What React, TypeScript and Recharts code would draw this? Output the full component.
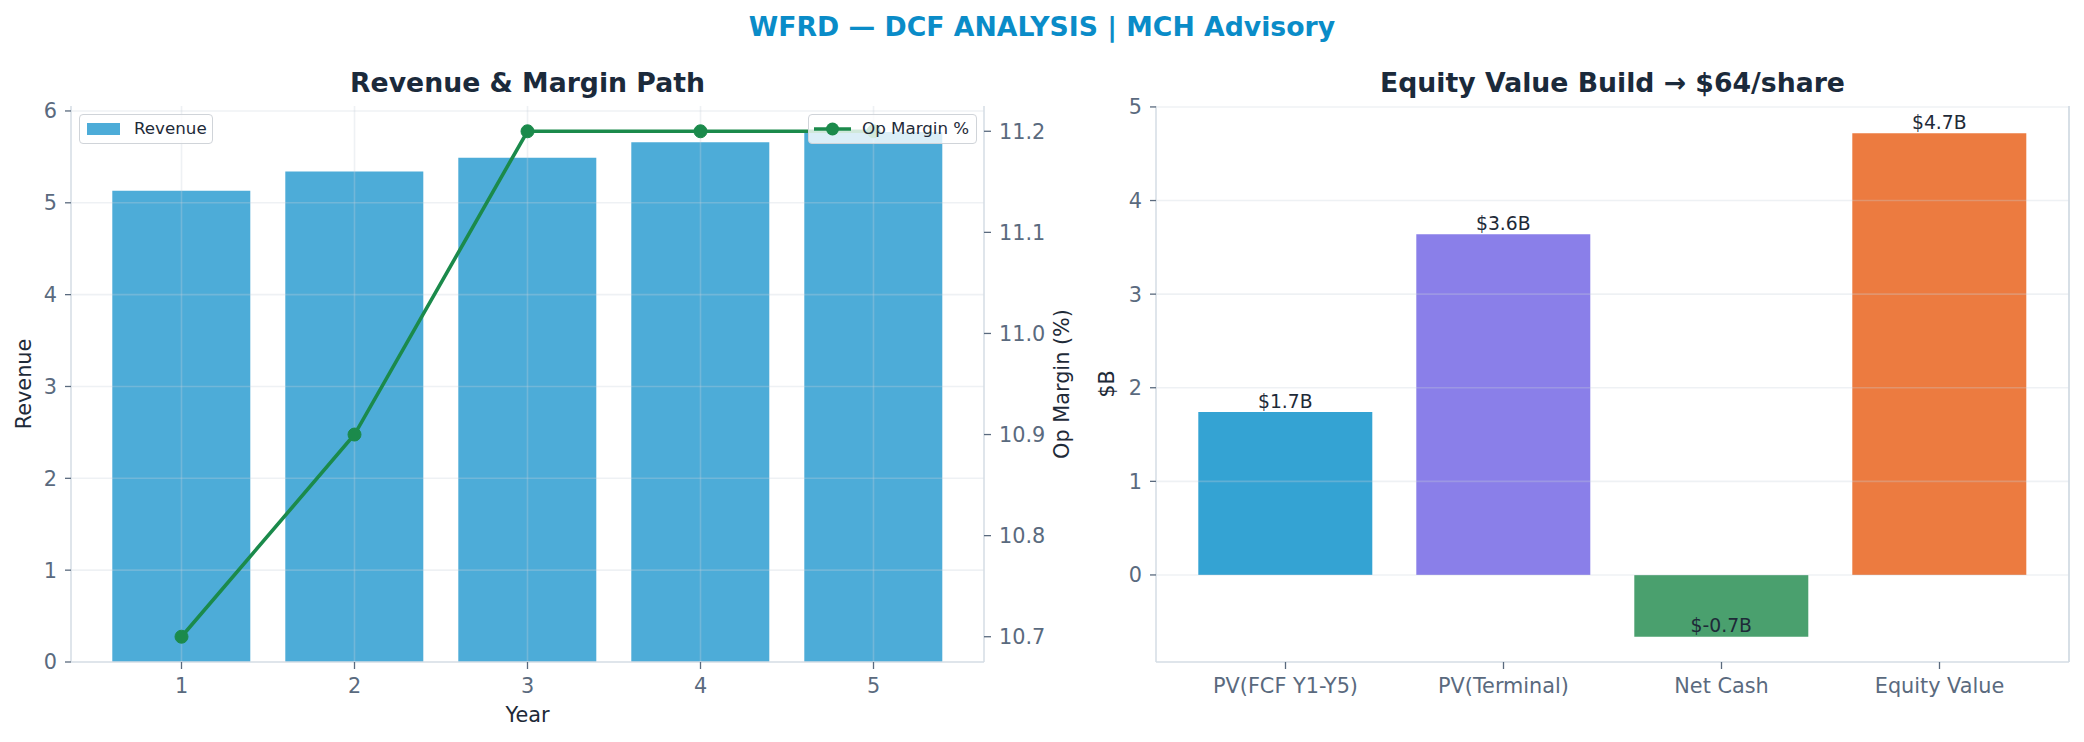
import React from 'react';
import {
  ComposedChart,
  BarChart,
  Bar,
  Line,
  XAxis,
  YAxis,
  ReferenceLine,
  CartesianGrid,
  Cell,
  LabelList,
  Legend,
} from 'recharts';

// ---------- data ----------
const years = [1, 2, 3, 4, 5];
const revenue = [5.13, 5.34, 5.49, 5.66, 5.77];
const opMargin = [10.7, 10.9, 11.2, 11.2, 11.2];
const revenueTicks = [0, 1, 2, 3, 4, 5, 6];
const marginTicks = [10.7, 10.8, 10.9, 11.0, 11.1, 11.2];

const buildLabels = ['PV(FCF Y1-Y5)', 'PV(Terminal)', 'Net Cash', 'Equity Value'];
const buildValues = [1.74, 3.64, -0.66, 4.72];
const buildColors = ['#34a3d3', '#8a7fe9', '#4aa06e', '#ec7b40'];
const buildTicks = [0, 1, 2, 3, 4, 5];

const revData = years.map((y, i) => ({ year: y, revenue: revenue[i], margin: opMargin[i] }));
const buildData = buildLabels.map((l, i) => ({ name: l, value: buildValues[i] }));

// ---------- styles ----------
const FONT = '"DejaVu Sans", Verdana, sans-serif';
const TICK = '#5a6a7e';
const SPINE = '#d5dce5';
const DARK = '#1e2a38';
const GRID = '#c8d0da';
const LINE_GREEN = '#1b8a4b';
const REV_BLUE = '#4dacd8';

const tickStyle = { fill: TICK, fontSize: 20.8, fontFamily: FONT };
const axisLineStyle = { stroke: SPINE, strokeWidth: 1.5 };
const tickLineStyle = { stroke: TICK, strokeWidth: 1.3 };

const RevLegend = (props: any) => {
  const payload = props.payload || [];
  const rev = payload.find((p: any) => p.value === 'Revenue');
  const mar = payload.find((p: any) => p.value === 'Op Margin %');
  const box: React.CSSProperties = {
    position: 'absolute',
    top: 114,
    height: 30,
    boxSizing: 'border-box',
    border: '1.3px solid #d0d4d9',
    borderRadius: 4,
    background: 'rgba(255,255,255,0.8)',
    fontFamily: FONT,
    fontSize: 16.7,
    color: DARK,
    whiteSpace: 'nowrap',
  };
  return (
    <div style={{ position: 'relative', width: 0, height: 0 }}>
      {rev && (
        <div style={{ ...box, left: 79, width: 134 }}>
          <div style={{ position: 'absolute', left: 7, top: 7.5, width: 33, height: 12, background: rev.color }} />
          <div style={{ position: 'absolute', left: 54, top: 3, lineHeight: '20px' }}>{rev.value}</div>
        </div>
      )}
      {mar && (
        <div style={{ ...box, left: 808, width: 169 }}>
          <svg style={{ position: 'absolute', left: 4, top: 0 }} width={40} height={28}>
            <line x1={1} y1={14} x2={38} y2={14} stroke={mar.color} strokeWidth={3.5} />
            <circle cx={19.5} cy={14} r={6.5} fill={mar.color} />
          </svg>
          <div style={{ position: 'absolute', left: 53, top: 3, lineHeight: '20px' }}>{mar.value}</div>
        </div>
      )}
    </div>
  );
};

const renderBuildLabel = (props: any) => {
  const { x, y, width, height, value } = props;
  const top = Math.min(y, y + height);
  const bottom = Math.max(y, y + height);
  const endY = value >= 0 ? top : bottom;
  return (
    <text
      x={x + width / 2}
      y={endY - 4.5}
      textAnchor="middle"
      fill={DARK}
      fontSize={18.75}
      fontFamily={FONT}
    >
      {`$${Number(value).toFixed(1)}B`}
    </text>
  );
};

// right-hand frame edge of the plotting area, taken from the chart's own offset
const rightEdge = (args: any) => {
  const off = args.offset || {};
  return [(off.left || 0) + (off.width || 0)];
};

export default function App() {
  return (
    <div
      style={{
        position: 'fixed',
        left: 0,
        top: 0,
        width: 2084,
        height: 742,
        background: '#ffffff',
        fontFamily: FONT,
        overflow: 'hidden',
      }}
    >
      {/* Left: Revenue & Margin Path */}
      <div style={{ position: 'absolute', left: 0, top: 0 }}>
        <ComposedChart
          width={1100}
          height={742}
          data={revData}
          margin={{ top: 106, right: 56, bottom: 40, left: 21 }}
          barCategoryGap="10%"
        >
          <XAxis
            dataKey="year"
            padding={{ left: 24, right: 24 }}
            height={40}
            tickSize={7}
            tickMargin={9}
            tick={tickStyle}
            tickLine={tickLineStyle}
            axisLine={axisLineStyle}
          />
          <XAxis
            xAxisId="top"
            dataKey="year"
            orientation="top"
            padding={{ left: 24, right: 24 }}
            height={0}
            tick={false}
            tickLine={false}
            axisLine={axisLineStyle}
          />
          <YAxis
            yAxisId="left"
            domain={[0, 6.054]}
            ticks={revenueTicks}
            width={50}
            tickSize={6}
            tickMargin={8}
            tick={tickStyle}
            tickLine={tickLineStyle}
            axisLine={axisLineStyle}
          />
          <YAxis
            yAxisId="right"
            orientation="right"
            domain={[10.675, 11.225]}
            ticks={marginTicks}
            width={60}
            tickSize={7}
            tickMargin={8}
            tickFormatter={(v: number) => v.toFixed(1)}
            tick={tickStyle}
            tickLine={tickLineStyle}
            axisLine={axisLineStyle}
          />
          <Bar yAxisId="left" dataKey="revenue" name="Revenue" fill={REV_BLUE} isAnimationActive={false} />
          {revenueTicks.slice(1).map((t) => (
            <ReferenceLine key={'h' + t} yAxisId="left" y={t} stroke={GRID} strokeOpacity={0.3} strokeWidth={1.6} />
          ))}
          {years.map((yv) => (
            <ReferenceLine key={'v' + yv} yAxisId="left" x={yv} stroke={GRID} strokeOpacity={0.3} strokeWidth={1.6} />
          ))}
          <Line
            yAxisId="right"
            dataKey="margin"
            name="Op Margin %"
            stroke={LINE_GREEN}
            strokeWidth={3.6}
            dot={{ r: 6.5, fill: LINE_GREEN, stroke: LINE_GREEN, strokeWidth: 1 }}
            activeDot={false}
            isAnimationActive={false}
          />
          <Legend
            content={<RevLegend />}
            wrapperStyle={{ position: 'absolute', left: 0, top: 0, width: 0, height: 0, overflow: 'visible' }}
          />
        </ComposedChart>
      </div>

      {/* Right: Equity Value Build */}
      <div style={{ position: 'absolute', left: 1042, top: 0 }}>
        <BarChart
          width={1042}
          height={742}
          data={buildData}
          margin={{ top: 106, right: 14, bottom: 40, left: 64 }}
          barCategoryGap="10%"
        >
          <CartesianGrid
            horizontal={false}
            vertical
            verticalCoordinatesGenerator={rightEdge}
            stroke={SPINE}
            strokeWidth={1.5}
            strokeDasharray=""
          />
          <XAxis
            dataKey="name"
            padding={{ left: 20.5, right: 20.5 }}
            height={40}
            tickSize={7}
            tickMargin={9}
            tick={tickStyle}
            tickLine={tickLineStyle}
            axisLine={axisLineStyle}
            interval={0}
          />
          <XAxis
            xAxisId="top"
            dataKey="name"
            orientation="top"
            padding={{ left: 20.5, right: 20.5 }}
            height={0}
            tick={false}
            tickLine={false}
            axisLine={axisLineStyle}
          />
          <YAxis
            domain={[-0.93, 5.01]}
            ticks={buildTicks}
            width={50}
            tickSize={6}
            tickMargin={8}
            tick={tickStyle}
            tickLine={tickLineStyle}
            axisLine={axisLineStyle}
          />
          <YAxis
            yAxisId="frame"
            orientation="right"
            domain={[-0.93, 5.01]}
            ticks={buildTicks}
            width={1}
            tick={false}
            tickLine={false}
            axisLine={axisLineStyle}
          />
          <Bar dataKey="value" isAnimationActive={false}>
            {buildData.map((d, i) => (
              <Cell key={d.name} fill={buildColors[i]} />
            ))}
            <LabelList dataKey="value" content={renderBuildLabel} />
          </Bar>
          {buildTicks.map((t) => (
            <ReferenceLine key={'bh' + t} y={t} stroke={GRID} strokeOpacity={0.3} strokeWidth={1.6} />
          ))}
        </BarChart>
      </div>

      {/* Titles and axis labels */}
      <svg
        width={2084}
        height={742}
        style={{ position: 'absolute', left: 0, top: 0, pointerEvents: 'none' }}
        fontFamily={FONT}
      >
        <text x={1042} y={36} textAnchor="middle" fontSize={26.7} fontWeight="bold" fill="#0a8cc8">
          WFRD — DCF ANALYSIS | MCH Advisory
        </text>
        <text x={527.5} y={92} textAnchor="middle" fontSize={26.7} fontWeight="bold" fill="#1b2a3b">
          Revenue &amp; Margin Path
        </text>
        <text x={1612.5} y={92} textAnchor="middle" fontSize={26.7} fontWeight="bold" fill="#1b2a3b">
          Equity Value Build → $64/share
        </text>
        <text x={527.5} y={722} textAnchor="middle" fontSize={20.8} fill={DARK}>
          Year
        </text>
        <text transform="translate(31,384) rotate(-90)" textAnchor="middle" fontSize={20.8} fill={DARK}>
          Revenue
        </text>
        <text transform="translate(1069,384) rotate(-90)" textAnchor="middle" fontSize={20.8} fill={DARK}>
          Op Margin (%)
        </text>
        <text transform="translate(1114,384) rotate(-90)" textAnchor="middle" fontSize={20.8} fill={DARK}>
          $B
        </text>
      </svg>
    </div>
  );
}
